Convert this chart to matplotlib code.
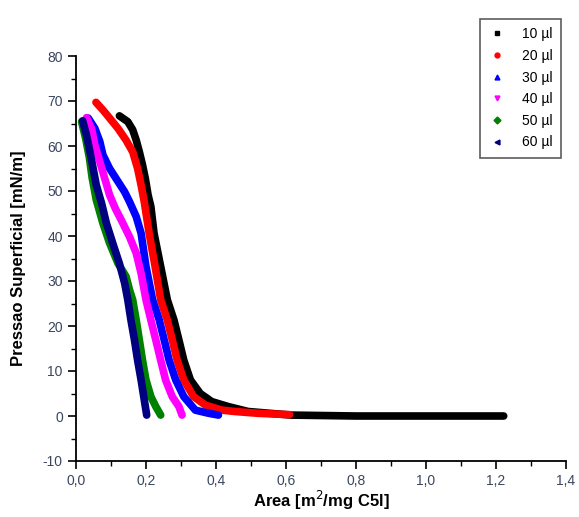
import numpy as np
import matplotlib
matplotlib.use('Agg')
import matplotlib.pyplot as plt
from matplotlib.lines import Line2D
from matplotlib.ticker import MultipleLocator, FuncFormatter

plt.rcParams['font.family'] = ['Liberation Sans', 'DejaVu Sans']

labels = ['10 µl', '20 µl', '30 µl', '40 µl', '50 µl', '60 µl']
colors = ['black', 'red', 'blue', 'magenta', 'green', 'navy']
markers = ['s', 'o', '^', 'v', 'D', '<']

# area [m2/mg], pressure [mN/m]
a10 = [0.124, 0.148, 0.162, 0.172, 0.181, 0.19, 0.198, 0.206, 0.214, 0.223, 0.242, 0.261, 0.28, 0.294,
       0.308, 0.327, 0.355, 0.388, 0.435, 0.492, 0.615, 0.8, 1.0, 1.222]
p10 = [66.7, 65.4, 63.6, 61.3, 58.7, 55.8, 52.8, 49.1, 46.5, 40.6, 33.2, 25.8, 21.3, 16.9,
       12.4, 8.0, 5.0, 3.2, 2.1, 1.0, 0.2, 0.0, 0.0, 0.0]
a20 = [0.057, 0.077, 0.096, 0.12, 0.143, 0.162, 0.176, 0.186, 0.195, 0.209, 0.226, 0.242, 0.261, 0.275,
       0.289, 0.308, 0.336, 0.37, 0.417, 0.454, 0.52, 0.61]
p20 = [69.7, 68.0, 66.2, 63.9, 61.3, 58.7, 55.0, 51.3, 47.6, 40.6, 33.2, 25.8, 21.3, 16.9,
       12.4, 8.0, 4.3, 2.4, 1.3, 1.0, 0.6, 0.3]
a30 = [0.035, 0.054, 0.068, 0.077, 0.096, 0.12, 0.139, 0.153, 0.172, 0.186, 0.2, 0.219, 0.238, 0.252,
       0.266, 0.285, 0.308, 0.341, 0.379, 0.407]
p30 = [66.2, 63.9, 61.0, 58.0, 55.0, 52.1, 49.8, 47.6, 44.3, 40.6, 33.2, 25.8, 21.3, 16.9,
       12.4, 8.0, 4.3, 1.3, 0.6, 0.2]
a40 = [0.03, 0.044, 0.054, 0.068, 0.082, 0.096, 0.113, 0.129, 0.153, 0.172, 0.186, 0.2, 0.214, 0.228,
       0.242, 0.256, 0.275, 0.294, 0.303]
p40 = [66.3, 63.9, 60.2, 56.5, 52.8, 49.1, 46.0, 43.6, 39.8, 36.2, 31.7, 25.8, 21.3, 16.9,
       12.4, 8.0, 4.3, 2.1, 0.2]
a50 = [0.016, 0.028, 0.038, 0.046, 0.058, 0.077, 0.096, 0.12, 0.143, 0.153, 0.162, 0.172, 0.181, 0.19,
       0.2, 0.214, 0.228, 0.242]
p50 = [65.4, 61.5, 57.5, 53.0, 48.0, 42.8, 38.4, 33.9, 31.0, 28.0, 25.8, 21.3, 16.9, 12.4,
       8.0, 4.3, 2.1, 0.2]
a60 = [0.019, 0.03, 0.04, 0.049, 0.058, 0.073, 0.087, 0.105, 0.124, 0.139, 0.148, 0.157, 0.167, 0.176,
       0.186, 0.195, 0.202]
p60 = [65.6, 62.4, 58.7, 55.0, 51.3, 47.3, 42.8, 38.4, 33.9, 29.5, 25.8, 21.3, 16.9, 12.4,
       8.0, 3.6, 0.2]

series = [(a10, p10), (a20, p20), (a30, p30), (a40, p40), (a50, p50), (a60, p60)]

fig = plt.figure(figsize=(5.79, 5.17), dpi=100)
ax = fig.add_axes([76 / 579, 56 / 517, 490 / 579, 405 / 517])
ax.set_position([76 / 579, 1 - 461 / 517, 490 / 579, 405 / 517])

for (x, y), c in zip(series, colors):
    ax.plot(x, y, color=c, lw=5.5, solid_capstyle='round', solid_joinstyle='round')

ax.set_xlim(0, 1.4)
ax.set_ylim(-10, 80)
ax.xaxis.set_major_locator(MultipleLocator(0.2))
ax.xaxis.set_minor_locator(MultipleLocator(0.1))
ax.yaxis.set_major_locator(MultipleLocator(10))
ax.yaxis.set_minor_locator(MultipleLocator(5))
ax.xaxis.set_major_formatter(FuncFormatter(lambda v, p: ('%.1f' % v).replace('.', ',')))
ax.yaxis.set_major_formatter(FuncFormatter(lambda v, p: '%d' % round(v)))

for s in ['top', 'right']:
    ax.spines[s].set_visible(False)
for s in ['left', 'bottom']:
    ax.spines[s].set_linewidth(1.3)
ax.tick_params(which='major', direction='out', length=6, width=1.2, labelsize=10, labelcolor='#3a4660')
ax.tick_params(which='minor', direction='out', length=3.5, width=1.0)

ax.set_xlabel('Area [m$^2$/mg C5l]', fontsize=12, fontweight='bold')
ax.xaxis.set_label_coords(0.5, -0.07)
ax.set_ylabel('Pressao Superficial [mN/m]', fontsize=12, fontweight='bold', labelpad=12)

handles = [Line2D([], [], ls='none', marker=m, color=c, markersize=3.5) for m, c in zip(markers, colors)]
leg = fig.legend(handles, labels, loc='upper left', bbox_to_anchor=(473 / 579, 1 - 12 / 517),
                 fontsize=10, frameon=True, fancybox=False, edgecolor='#333333',
                 handlelength=1.2, handletextpad=1.2, labelspacing=0.55, borderpad=0.6)
leg.get_frame().set_linewidth(1.2)

fig.savefig('out.png', dpi=100)
